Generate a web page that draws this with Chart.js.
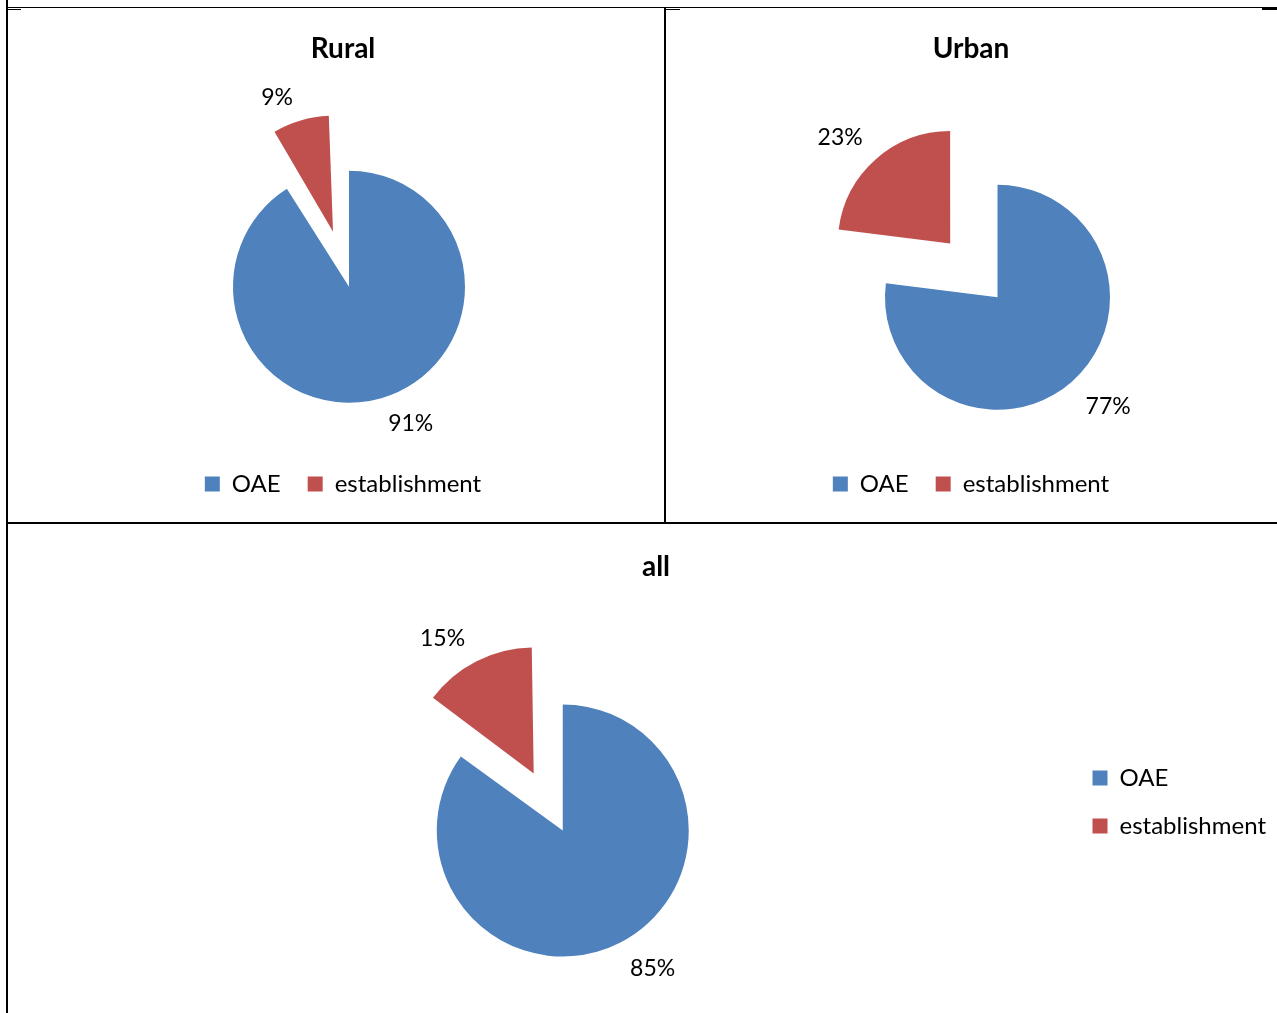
<!DOCTYPE html>
<html>
<head>
<meta charset="utf-8">
<script src="https://cdn.jsdelivr.net/npm/chart.js@4/dist/chart.umd.min.js"></script>
<style>
  body { margin: 0; background: #fff; }
  #page { position: relative; width: 1277px; height: 1013px; overflow: hidden; background: #fff; }
  canvas { position: absolute; }
  .rule { position: absolute; background: #000; z-index: 5; }
</style>
</head>
<body>
<div id="page">
  <canvas id="ruralChart" width="656" height="514" style="left:7px;top:8px"></canvas>
  <canvas id="urbanChart" width="612" height="514" style="left:665px;top:8px"></canvas>
  <canvas id="allChart" width="1270" height="489" style="left:7px;top:524px"></canvas>

  <!-- table borders -->
  <div class="rule" style="left:6px;top:0;width:2px;height:1013px"></div>
  <div class="rule" style="left:6px;top:7px;width:1271px;height:1px"></div>
  <div class="rule" style="left:8px;top:9px;width:13px;height:1px"></div>
  <div class="rule" style="left:664px;top:9px;width:16px;height:1px"></div>
  <div class="rule" style="left:1262px;top:8px;width:15px;height:2px"></div>
  <div class="rule" style="left:664px;top:8px;width:2px;height:515px"></div>
  <div class="rule" style="left:6px;top:522px;width:1271px;height:2px"></div>
</div>

<script>
const categories = ['OAE', 'establishment'];
const ruralValues = [91, 9];
const urbanValues = [77, 23];
const allValues = [85, 15];
const chartTitles = ['Rural', 'Urban', 'all'];

const sliceColors = ['#4F81BD', '#C0504D'];
const FONT = 'Lato';

// percentage labels next to each slice
const pctLabels = {
  id: 'pctLabels',
  afterDatasetUpdate(chart) {
    // keep exploded slices at the same radius as the rest of the pie
    chart.getDatasetMeta(0).data.forEach(arc => {
      const off = (arc.options.offset || 0) / 4;
      const fix = 1 - Math.sin(Math.min(Math.PI, arc.circumference));
      arc.outerRadius -= off * fix;
    });
  },
  afterDatasetsDraw(chart, args, opts) {
    const meta = chart.getDatasetMeta(0);
    const data = chart.data.datasets[0].data;
    const total = data.reduce((a, b) => a + b, 0);
    const ctx = chart.ctx;
    ctx.save();
    ctx.font = '23px ' + FONT;
    ctx.fillStyle = '#000';
    ctx.textAlign = 'center';
    ctx.textBaseline = 'middle';
    meta.data.forEach((arc, i) => {
      const off = (arc.options.offset || 0) / 4;
      const mid = (arc.startAngle + arc.endAngle) / 2;
      const cx = arc.x + Math.cos(mid) * off;
      const cy = arc.y + Math.sin(mid) * off;
      const a = (opts.angles[i] - 90) * Math.PI / 180;
      const d = opts.dists[i];
      ctx.fillText(Math.round(data[i] / total * 100) + '%', cx + Math.cos(a) * d, cy + Math.sin(a) * d);
    });
    ctx.restore();
  }
};

function makePie(canvasId, title, values, cfg) {
  const ctx = document.getElementById(canvasId).getContext('2d');
  return new Chart(ctx, {
    type: 'pie',
    data: {
      labels: categories,
      datasets: [{
        data: values,
        backgroundColor: sliceColors,
        borderWidth: 0,
        offset: [0, cfg.explode],
        clip: false
      }]
    },
    options: {
      responsive: false,
      animation: false,
      events: [],
      radius: cfg.radius,
      layout: { padding: cfg.padding },
      plugins: {
        title: {
          display: true,
          text: title,
          color: '#000',
          font: { family: FONT, size: 28, weight: 'bold', lineHeight: 1.2 },
          padding: cfg.titlePadding
        },
        // empty spacer box to push the pie sideways
        subtitle: {
          display: true,
          text: '',
          position: 'left',
          fullSize: false,
          font: { size: 10, lineHeight: 1 },
          padding: { top: cfg.shift - 10, bottom: 0 }
        },
        legend: {
          position: cfg.legendPos,
          fullSize: true,
          title: cfg.legendTitle,
          labels: {
            color: '#000',
            boxWidth: 15,
            boxHeight: 15,
            padding: cfg.legendPad,
            font: { family: FONT, size: 24 }
          }
        },
        tooltip: { enabled: false },
        pctLabels: { angles: cfg.labelAngles, dists: cfg.labelDists }
      }
    },
    plugins: [pctLabels]
  });
}

makePie('ruralChart', chartTitles[0], ruralValues, {
  radius: 116, explode: 229,
  padding: { left: 16, bottom: 16 },
  titlePadding: { top: 24.2, bottom: 62.7 },
  shift: 12,
  legendPos: 'bottom', legendPad: 27,
  legendTitle: { display: false },
  labelAngles: [155.7, -22.7], labelDists: [150, 145]
});

makePie('urbanChart', chartTitles[1], urbanValues, {
  radius: 112.5, explode: 286,
  padding: { bottom: 16 },
  titlePadding: { top: 24.2, bottom: 83.7 },
  shift: 53,
  legendPos: 'bottom', legendPad: 27,
  legendTitle: { display: false },
  labelAngles: [134.7, -46], labelDists: [155.6, 153]
});

makePie('allChart', chartTitles[2], allValues, {
  radius: 126, explode: 256,
  padding: { left: 29, right: 1 },
  titlePadding: { top: 26.2, bottom: 64.2 },
  shift: 21,
  legendPos: 'right', legendPad: 24,
  legendTitle: { display: true, text: ' ', font: { size: 10, lineHeight: 1 }, padding: { top: 57, bottom: 0 } },
  labelAngles: [147, -34], labelDists: [165, 163]
});
</script>
</body>
</html>
